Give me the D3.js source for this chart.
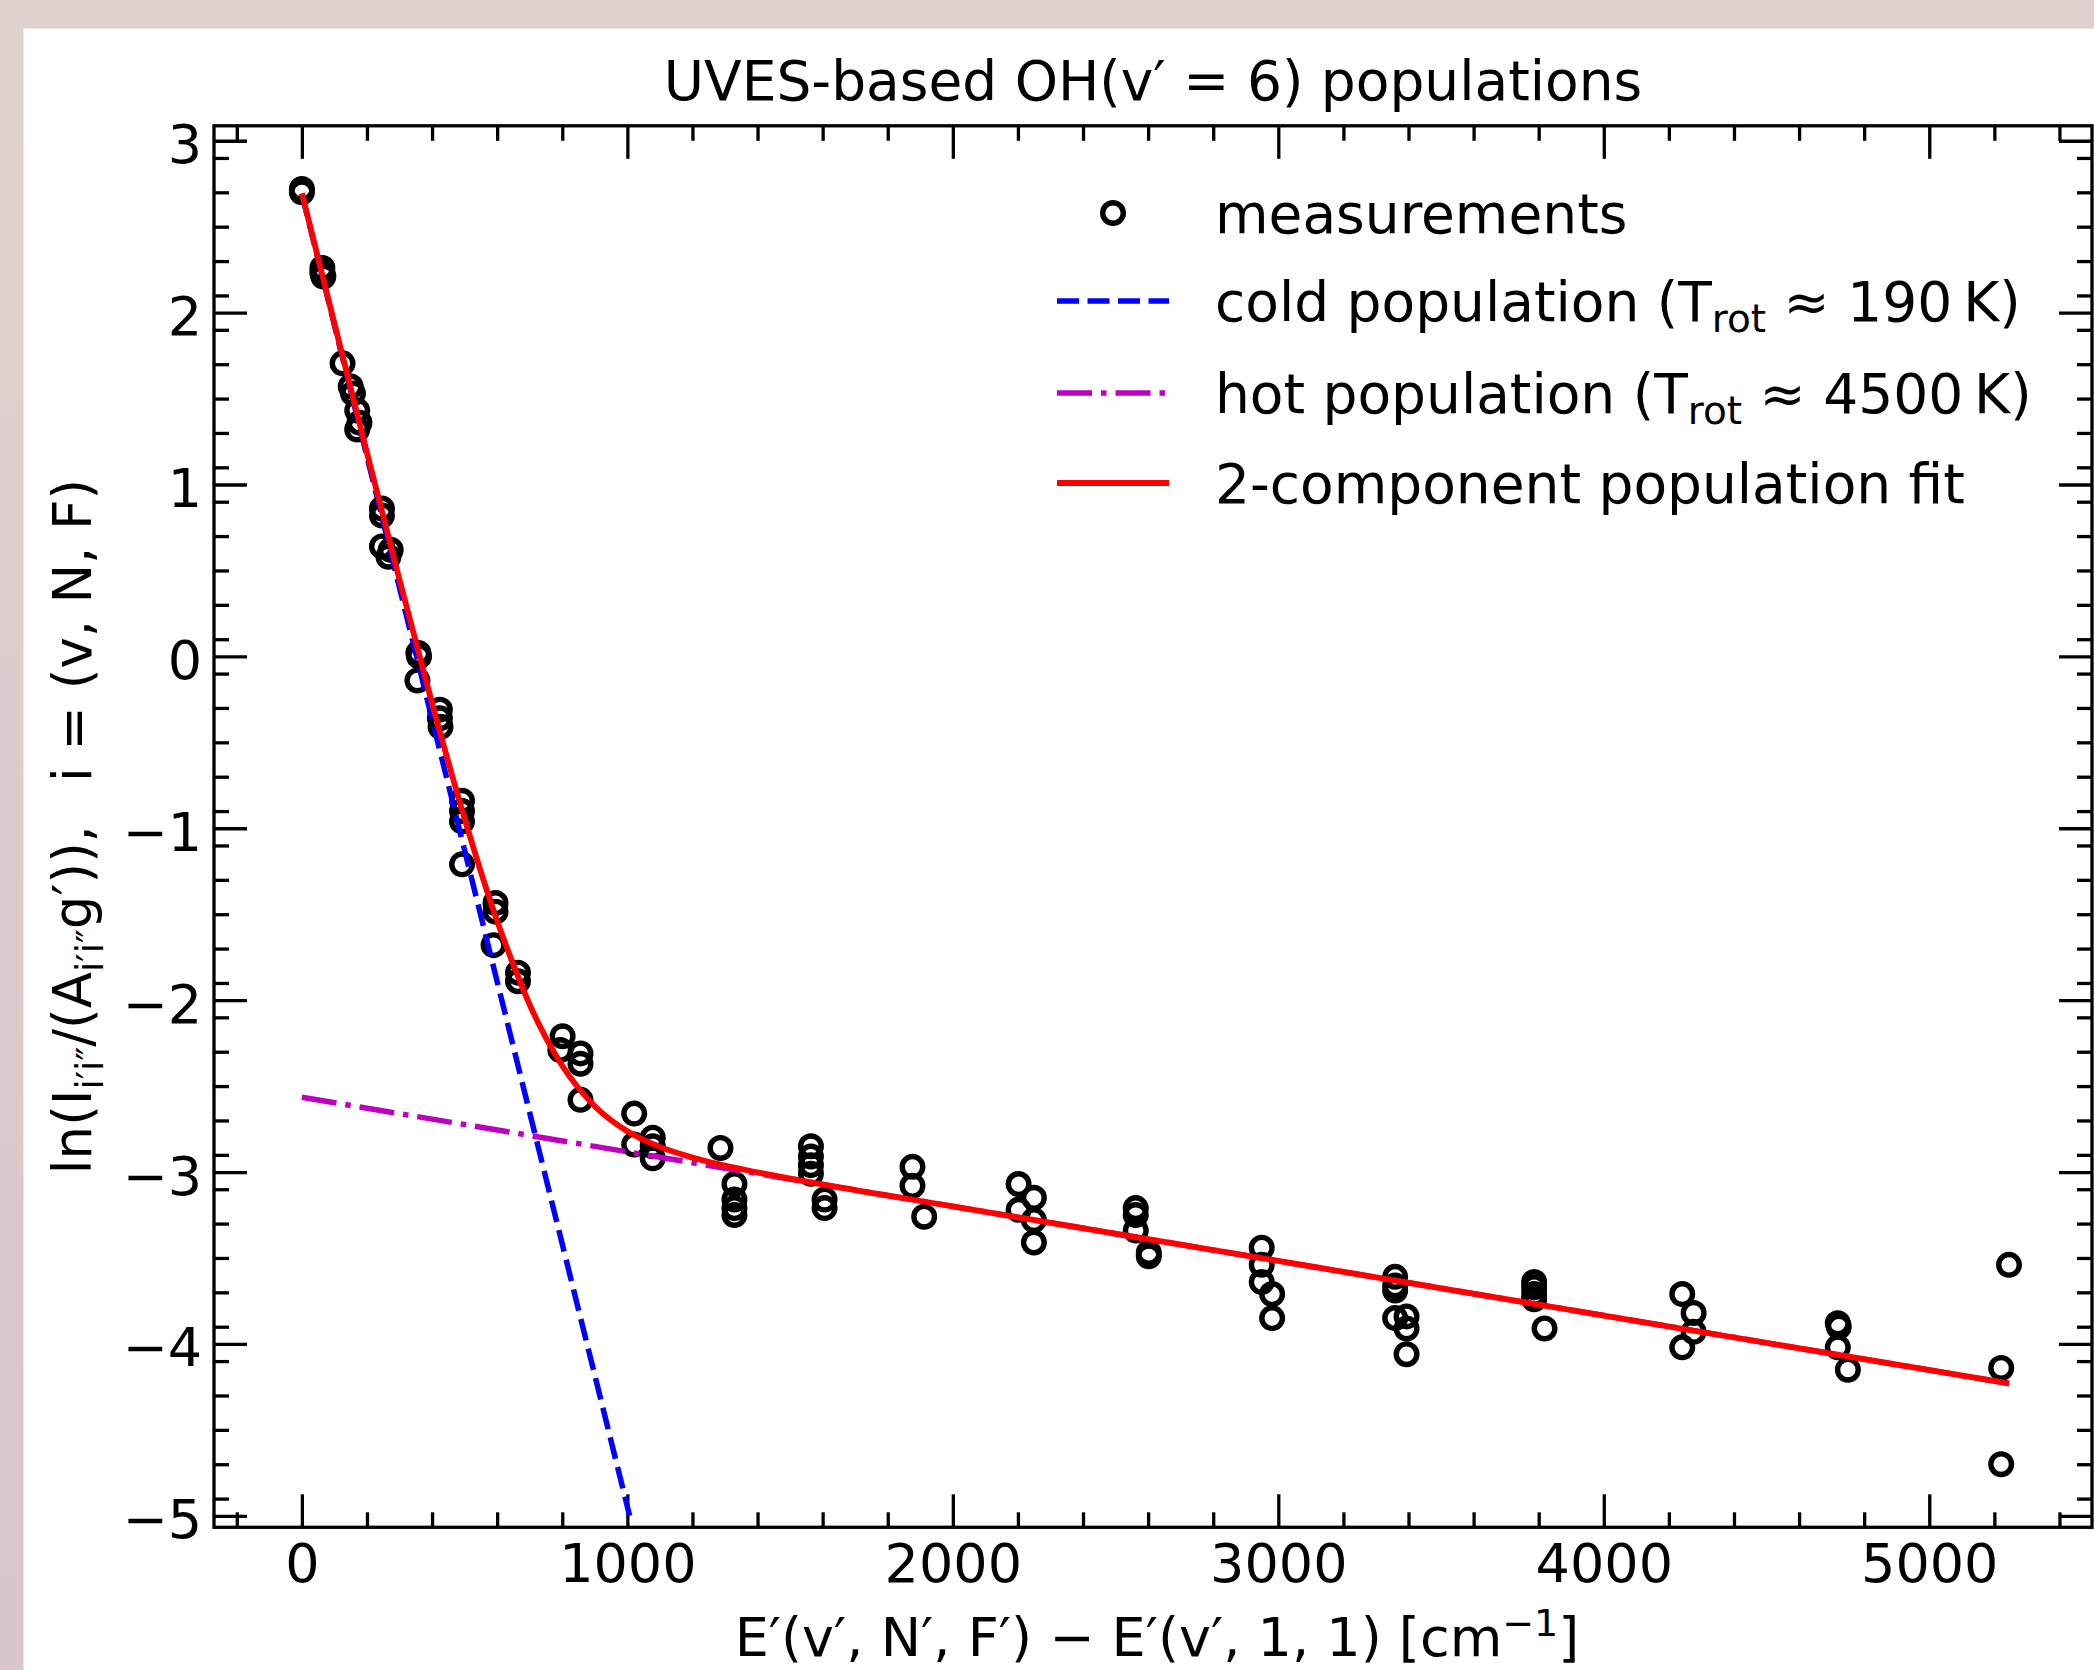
<!DOCTYPE html>
<html>
<head>
<meta charset="utf-8">
<script src="https://cdn.jsdelivr.net/npm/d3@7"></script>
<style>
  body { margin: 0; padding: 0; }
  svg { display: block; font-family: "DejaVu Sans", sans-serif; }
</style>
</head>
<body>
<svg id="chart"></svg>
<script>
// page size
var width = 2094;
var height = 1670;

// measured populations, E' in cm^-1 and ln(I/(A g'))
const energies = [0, 0, 63, 63, 66, 125, 150, 157, 170, 177, 170, 246, 246, 246, 273, 266, 358, 360, 355,
    424, 424, 426, 492, 492, 492, 492, 595, 595, 589, 664, 664, 801, 794, 856, 856, 856, 1021, 1021,
    1078, 1078, 1078, 1286, 1329, 1329, 1329, 1329, 1564, 1564, 1564, 1564, 1606, 1606, 1876, 1876, 1912,
    2202, 2202, 2249, 2249, 2249, 2562, 2562, 2562, 2602, 2602, 2949, 2949, 2949, 2981, 2981,
    3359, 3359, 3359, 3359, 3394, 3394, 3394, 3786, 3786, 3786, 3786, 3818, 4241, 4241, 4276, 4276,
    4719, 4722, 4719, 4750, 5245, 5221, 5221]
const lnPop = [2.70, 2.72, 2.26, 2.23, 2.21, 1.705, 1.57, 1.53, 1.43, 1.36, 1.32, 0.86, 0.82, 0.64, 0.62, 0.58, 0.02, 0.0, -0.14,
    -0.31, -0.36, -0.41, -0.84, -0.90, -0.96, -1.21, -1.435, -1.485, -1.68, -1.84, -1.89, -2.21, -2.29, -2.31, -2.37, -2.58, -2.66, -2.84,
    -2.80, -2.85, -2.92, -2.86, -3.07, -3.16, -3.21, -3.25, -2.85, -2.91, -2.96, -3.01, -3.16, -3.21, -2.97, -3.08, -3.26,
    -3.07, -3.22, -3.15, -3.28, -3.41, -3.21, -3.25, -3.34, -3.47, -3.49, -3.44, -3.54, -3.64, -3.71, -3.85,
    -3.61, -3.66, -3.69, -3.85, -3.84, -3.91, -4.06, -3.64, -3.67, -3.71, -3.74, -3.91, -3.71, -4.02, -3.82, -3.93,
    -3.88, -3.90, -4.02, -4.15, -3.54, -4.14, -4.70]

// fitted lines
const coldE = [0, 1007]
const coldLn = [2.69, -5.0]
const hotE = [0, 5245]
const hotLn = [-2.565, -4.23]
const fitE = [0, 100, 200, 300, 400, 500, 600, 650, 700, 750, 800, 900, 1000, 1100, 1200, 1400, 1600, 2000, 3000, 4000, 5245]
const fitLn = [2.695, 1.937, 1.185, 0.445, -0.272, -0.944, -1.540, -1.795, -2.027, -2.22, -2.382, -2.617, -2.763, -2.854, -2.916,
    -3.002, -3.072, -3.200, -3.517, -3.835, -4.230]

// ticks
const xMajor = [0, 1000, 2000, 3000, 4000, 5000]
const xMinor = d3.range(-200, 5500, 200).filter(v => v % 1000 != 0)
const yMajor = [-5, -4, -3, -2, -1, 0, 1, 2, 3]
const yMinor = d3.range(-49, 31, 2).map(v => v / 10).filter(v => !Number.isInteger(v))

const legendLabels = ['measurements', 'cold population', 'hot population', '2-component population fit']

const plotLeft = 214, plotRight = 2092, plotTop = 125.8, plotBottom = 1527.3

var svg = d3.select('#chart').attr('width', width).attr('height', height)

// page background and white panel
var grad = svg.append('defs').append('linearGradient')
    .attr('id', 'bg').attr('x1', 0).attr('y1', 0).attr('x2', 0).attr('y2', 1)
grad.append('stop').attr('offset', '0%').attr('stop-color', '#e0d2ce')
grad.append('stop').attr('offset', '100%').attr('stop-color', '#d9c5cc')
svg.append('rect').attr('width', width).attr('height', height).attr('fill', 'url(#bg)')
svg.append('rect').attr('x', 23.5).attr('y', 28.5).attr('width', width).attr('height', height).attr('fill', 'white')

var x = d3.scaleLinear().domain([-270, 5500]).range([plotLeft, plotRight])
var y = d3.scaleLinear().domain([-5.067, 3.087]).range([plotBottom, plotTop])

svg.append('clipPath').attr('id', 'clip').append('rect')
    .attr('x', plotLeft).attr('y', plotTop).attr('width', plotRight - plotLeft).attr('height', plotBottom - plotTop)

// axes with inward ticks on all four sides
function addAxis(axisFn, scale, values, size, transform, withLabels) {
    var ax = axisFn(scale).tickValues(values).tickSize(-size).tickSizeOuter(0)
    if (withLabels) {
        ax.tickFormat(d3.format('d'))
    } else {
        ax.tickFormat('')
    }
    var g = svg.append('g').attr('transform', transform).call(ax)
    g.select('.domain').remove()
    g.selectAll('.tick line').attr('stroke', 'black').attr('stroke-width', 3.3)
    return g
}

var gb = addAxis(d3.axisBottom, x, xMajor, 33, `translate(0,${plotBottom})`, true)
gb.selectAll('.tick text').attr('font-size', 54).attr('font-family', 'DejaVu Sans').attr('fill', 'black')
    .attr('y', 16).attr('dy', '0.71em')
addAxis(d3.axisBottom, x, xMinor, 15, `translate(0,${plotBottom})`, false)
addAxis(d3.axisTop, x, xMajor, 33, `translate(0,${plotTop})`, false)
addAxis(d3.axisTop, x, xMinor, 15, `translate(0,${plotTop})`, false)

var gl = addAxis(d3.axisLeft, y, yMajor, 33, `translate(${plotLeft},0)`, true)
gl.selectAll('.tick text').attr('font-size', 54).attr('font-family', 'DejaVu Sans').attr('fill', 'black')
    .attr('x', -12).attr('dy', 22)
addAxis(d3.axisLeft, y, yMinor, 15, `translate(${plotLeft},0)`, false)
addAxis(d3.axisRight, y, yMajor, 33, `translate(${plotRight},0)`, false)
addAxis(d3.axisRight, y, yMinor, 15, `translate(${plotRight},0)`, false)

// data layer
var plot = svg.append('g').attr('clip-path', 'url(#clip)')

plot.selectAll('circle.meas')
    .data(energies.map((e, i) => [e, lnPop[i]]))
    .enter()
    .append('circle')
    .attr('class', 'meas')
    .attr('cx', d => x(d[0]))
    .attr('cy', d => y(d[1]))
    .attr('r', 10.3)
    .attr('fill', 'none')
    .attr('stroke', 'black')
    .attr('stroke-width', 5.4)

var line = d3.line().x(d => x(d[0])).y(d => y(d[1]))

plot.append('path')
    .datum(coldE.map((e, i) => [e, coldLn[i]]))
    .attr('d', line)
    .attr('fill', 'none').attr('stroke', '#0000ff').attr('stroke-width', 5.5)
    .attr('stroke-dasharray', '22,8.5')

plot.append('path')
    .datum(hotE.map((e, i) => [e, hotLn[i]]))
    .attr('d', line)
    .attr('fill', 'none').attr('stroke', '#bf00bf').attr('stroke-width', 5.5)
    .attr('stroke-dasharray', '35,9,5.5,9')

plot.append('path')
    .datum(fitE.map((e, i) => [e, fitLn[i]]))
    .attr('d', line.curve(d3.curveMonotoneX))
    .attr('fill', 'none').attr('stroke', '#ff0000').attr('stroke-width', 5.8)

// frame
svg.append('rect')
    .attr('x', plotLeft).attr('y', plotTop)
    .attr('width', plotRight - plotLeft).attr('height', plotBottom - plotTop)
    .attr('fill', 'none').attr('stroke', 'black').attr('stroke-width', 3.3)

// title
svg.append('text')
    .attr('x', (plotLeft + plotRight) / 2).attr('y', 100)
    .attr('text-anchor', 'middle').attr('font-size', 55)
    .text('UVES-based OH(v\u2032 = 6) populations')

// x label
var xl = svg.append('text')
    .attr('x', (plotLeft + plotRight) / 2 + 4).attr('y', 1656)
    .attr('text-anchor', 'middle').attr('font-size', 54)
xl.append('tspan').text('E\u2032(v\u2032, N\u2032, F\u2032) \u2212 E\u2032(v\u2032, 1, 1) [cm')
xl.append('tspan').attr('font-size', 38).attr('dy', -20).text('\u22121')
xl.append('tspan').attr('dy', 20).text(']')

// y label
var yl = svg.append('text')
    .attr('transform', `translate(91,${(plotTop + plotBottom) / 2}) rotate(-90)`)
    .attr('text-anchor', 'middle').attr('font-size', 53)
yl.append('tspan').text('ln(I')
yl.append('tspan').attr('font-size', 37).attr('dy', 12).text('i\u2032i\u2033')
yl.append('tspan').attr('dy', -12).text('/(A')
yl.append('tspan').attr('font-size', 37).attr('dy', 12).text('i\u2032i\u2033')
yl.append('tspan').attr('dy', -12).text('g\u2032)),\u2002 i = (v, N, F)')

// legend
var legend = svg.append('g')
var rowY = [213, 301, 393, 483]
var hx0 = 1057, hx1 = 1169, tx = 1215

legend.append('circle')
    .attr('cx', (hx0 + hx1) / 2).attr('cy', rowY[0]).attr('r', 10.3)
    .attr('fill', 'none').attr('stroke', 'black').attr('stroke-width', 5.4)
legend.append('line').attr('x1', hx0).attr('x2', hx1).attr('y1', rowY[1]).attr('y2', rowY[1])
    .attr('stroke', '#0000ff').attr('stroke-width', 5.5).attr('stroke-dasharray', '22,8.5')
legend.append('line').attr('x1', hx0).attr('x2', hx1).attr('y1', rowY[2]).attr('y2', rowY[2])
    .attr('stroke', '#bf00bf').attr('stroke-width', 5.5).attr('stroke-dasharray', '35,9,5.5,9')
legend.append('line').attr('x1', hx0).attr('x2', hx1).attr('y1', rowY[3]).attr('y2', rowY[3])
    .attr('stroke', '#ff0000').attr('stroke-width', 5.8)

function legendText(i, temp) {
    var t = legend.append('text').attr('x', tx).attr('y', rowY[i] + 20).attr('font-size', 55)
    if (temp) {
        t.append('tspan').text(legendLabels[i] + ' (T')
        t.append('tspan').attr('font-size', 39).attr('dy', 11).text('rot')
        t.append('tspan').attr('dy', -11).text(' \u2248 ' + temp + '\u2009K)')
    } else {
        t.text(legendLabels[i])
    }
}
legendText(0)
legendText(1, '190')
legendText(2, '4500')
legendText(3)
</script>
</body>
</html>
